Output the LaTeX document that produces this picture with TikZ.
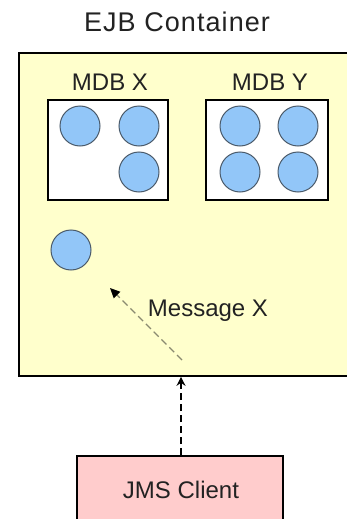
\documentclass[tikz,border=0pt]{standalone}
\usepackage{fontspec}
\setmainfont{Liberation Sans}
\usetikzlibrary{arrows.meta}
\definecolor{cyellow}{HTML}{FFFFCC}
\definecolor{cblue}{HTML}{92C6F8}
\definecolor{cblueline}{HTML}{4A5A6A}
\definecolor{cpink}{HTML}{FFCCCC}
\definecolor{ctext}{HTML}{222222}
\definecolor{cmsg}{HTML}{8A8A70}
\tikzset{
  box/.style={draw=black, line width=1.6pt, rectangle, inner sep=0pt},
  bean/.style={circle, draw=cblueline, line width=1pt, fill=cblue, minimum size=40pt, inner sep=0pt},
  lbl/.style={text=ctext, font=\fontsize{24}{26}\selectfont, inner sep=0pt},
  ttl/.style={text=ctext, font=\fontsize{27}{29}\selectfont\addfontfeature{LetterSpace=4}, inner sep=0pt},
}
\begin{document}
\begin{tikzpicture}[x=1pt,y=-1pt]
\useasboundingbox (0,0) rectangle (347,519);
\clip (0,0) rectangle (347,519);
\fill[white] (0,0) rectangle (347,519);
% container
\node[box, fill=cyellow, minimum width=341pt, minimum height=323pt] (cont) at (189.5,214.5) {};
\node[ttl] (title) at (177,22) {EJB Container};
% MDB X
\node[lbl] (lx) at (110,82) {MDB X};
\node[box, fill=white, minimum width=120pt, minimum height=100pt] (mx) at (108,150) {};
\node[bean] (x1) at (80,126) {};
\node[bean] (x2) at (139,126) {};
\node[bean] (x3) at (139,172) {};
% MDB Y
\node[lbl] (ly) at (270,82) {MDB Y};
\node[box, fill=white, minimum width=122pt, minimum height=100pt] (my) at (267,150) {};
\node[bean] (y1) at (240,126) {};
\node[bean] (y2) at (298,126) {};
\node[bean] (y3) at (240,172) {};
\node[bean] (y4) at (298,172) {};
% lone bean
\node[bean] (lone) at (71,250) {};
% message
\coordinate (ms) at (182,360);
\coordinate (me) at (110,288);
\draw[cmsg, line width=1.3pt, dash pattern=on 7pt off 4pt, -{Triangle[length=10pt,width=9pt,color=black,fill=black]}] (ms) -- (me);
\node[lbl] (msg) at (208,311) {Message X};
% JMS client
\node[box, fill=cpink, minimum width=206pt, minimum height=84pt] (jms) at (180,498) {};
\node[lbl] (jmst) at (181,490) {JMS Client};
\draw[black, line width=1.3pt, dash pattern=on 7pt off 4pt, -{Stealth[length=9pt,width=9pt]}] (jms.north -| 181,0) -- (cont.south -| 181,0);
\end{tikzpicture}
\end{document}
